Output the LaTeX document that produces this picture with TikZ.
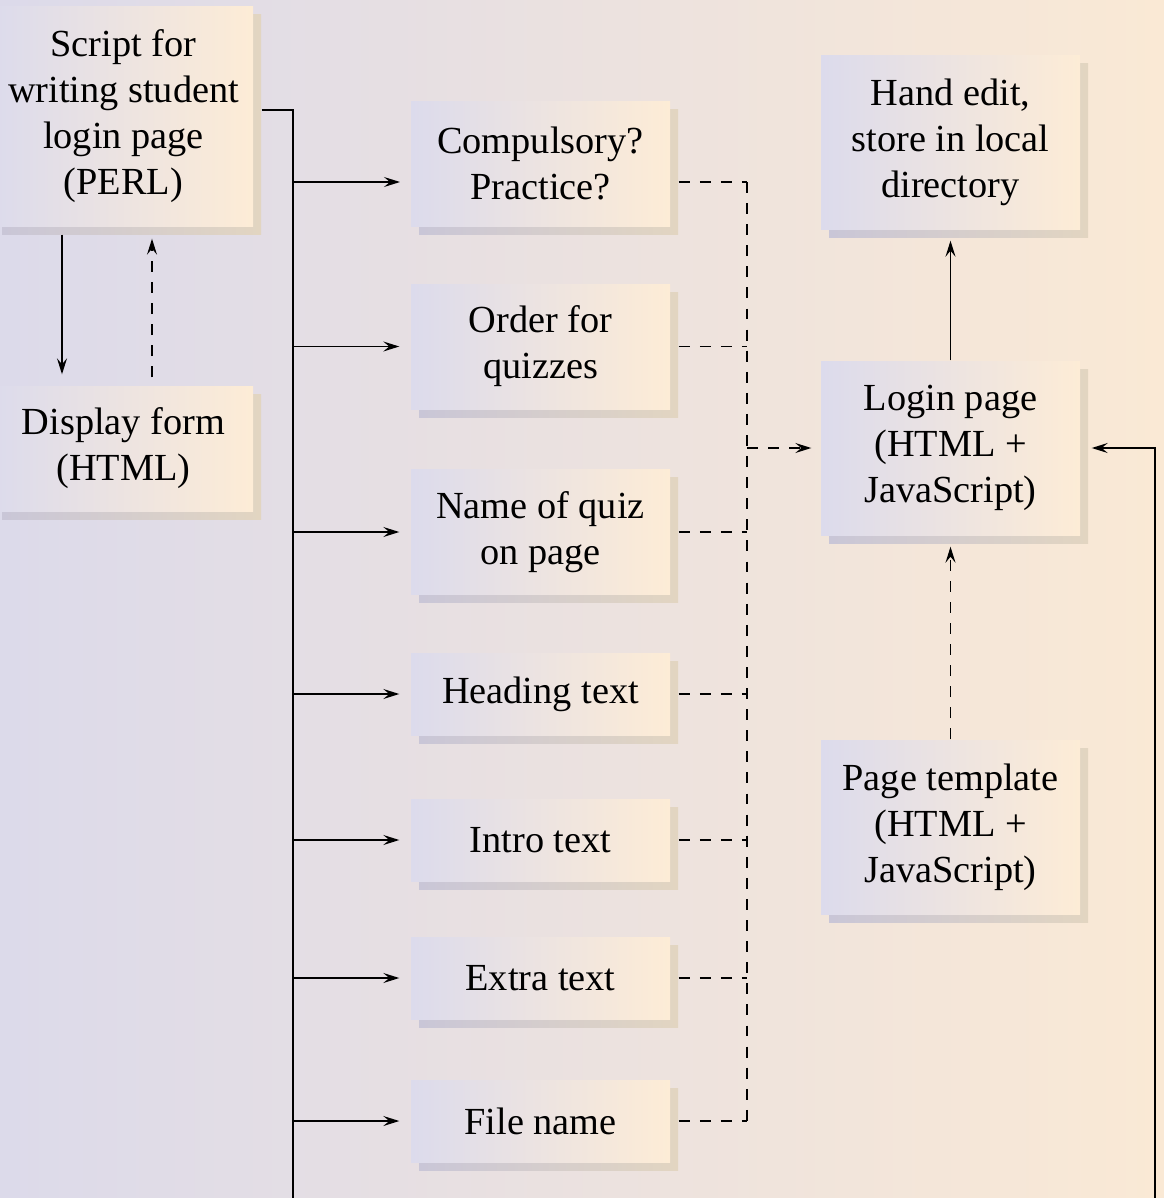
\documentclass[tikz,border=0pt]{standalone}
\usepackage{fontspec}
\setmainfont{Liberation Serif}
\usetikzlibrary{arrows.meta,shadows}

\definecolor{bgL}{RGB}{220,218,234}
\definecolor{bgR}{RGB}{250,233,213}
\definecolor{boxL}{RGB}{220,219,236}
\definecolor{boxR}{RGB}{253,236,214}
\definecolor{shL}{RGB}{201,198,215}
\definecolor{shR}{RGB}{226,213,193}

\tikzset{
	box/.style={rectangle, left color=boxL, right color=boxR, minimum width=2.59cm, inner sep=0pt, align=center,
		font=\fontsize{10.9}{13.1}\selectfont,
		general shadow={shadow xshift=0.8mm, shadow yshift=-0.8mm, left color=shL, right color=shR}},
	plain/.style={line width=0.4pt},
	arr/.style={line width=0.4pt, -{Stealth[length=1.6mm, width=1mm, inset=0.6mm]}},
	dashline/.style={line width=0.4pt, dash pattern=on 3.1pt off 2.9pt}
}

\begin{document}
\begin{tikzpicture}
\useasboundingbox (0,0) rectangle (11.64,-11.98);
\shade[left color=bgL, right color=bgR] (0,0) rectangle (11.64,-11.98);

\path (1.235,-1.16) node[box, minimum height=2.20cm] (script) {Script for\\writing student\\login page\\(PERL)}
		(1.235,-4.485) node[box, minimum height=1.25cm] (display) {Display form\\(HTML)}
		(5.405,-1.635) node[box, minimum height=1.25cm] (comp) {Compulsory?\\Practice?}
		(5.405,-3.465) node[box, minimum height=1.25cm] (order) {Order for\\quizzes}
		(5.405,-5.32) node[box, minimum height=1.25cm] (quizname) {Name of quiz\\on page}
		(5.405,-6.94) node[box, minimum height=0.82cm] (heading) {Heading text}
		(5.405,-8.40) node[box, minimum height=0.82cm] (intro) {Intro text}
		(5.405,-9.78) node[box, minimum height=0.82cm] (extra) {Extra text}
		(5.405,-11.21) node[box, minimum height=0.82cm] (file) {File name}
		(9.505,-1.42) node[box, minimum height=1.74cm] (hand) {Hand edit,\\store in local\\directory}
		(9.505,-4.48) node[box, minimum height=1.74cm] (login) {Login page\\(HTML +\\JavaScript)}
		(9.505,-8.27) node[box, minimum height=1.74cm] (templ) {Page template\\(HTML +\\JavaScript)}
;

\coordinate (busTop) at (2.93,-1.10);
\coordinate (busEnd) at (2.93,-11.98);
\coordinate (compIn) at (4.11,-1.82);
\coordinate (dashTop) at (7.47,-1.82);
\coordinate (loopEnd) at (11.55,-11.98);

\draw[plain, shorten <=0.8mm] (script.east |- busTop) -- (busTop) -- (busEnd);

\draw[arr, shorten >=1.1mm] (busTop |- compIn) -- (compIn);
\draw[arr, shorten >=1.1mm] (busTop |- order.west) -- (node cs:name=order, anchor=west);
\draw[arr, shorten >=1.1mm] (busTop |- quizname.west) -- (node cs:name=quizname, anchor=west);
\draw[arr, shorten >=1.1mm] (busTop |- heading.west) -- (node cs:name=heading, anchor=west);
\draw[arr, shorten >=1.1mm] (busTop |- intro.west) -- (node cs:name=intro, anchor=west);
\draw[arr, shorten >=1.1mm] (busTop |- extra.west) -- (node cs:name=extra, anchor=west);
\draw[arr, shorten >=1.1mm] (busTop |- file.west) -- (node cs:name=file, anchor=west);

\draw[dashline, shorten <=0.8mm] (comp.east |- dashTop) -- (dashTop);
\draw[dashline, shorten <=0.8mm] (node cs:name=order, anchor=east) -- (dashTop |- order.east);
\draw[dashline, shorten <=0.8mm] (node cs:name=quizname, anchor=east) -- (dashTop |- quizname.east);
\draw[dashline, shorten <=0.8mm] (node cs:name=heading, anchor=east) -- (dashTop |- heading.east);
\draw[dashline, shorten <=0.8mm] (node cs:name=intro, anchor=east) -- (dashTop |- intro.east);
\draw[dashline, shorten <=0.8mm] (node cs:name=extra, anchor=east) -- (dashTop |- extra.east);
\draw[dashline, shorten <=0.8mm] (node cs:name=file, anchor=east) -- (dashTop |- file.east);
\draw[dashline] (dashTop) -- (dashTop |- file.east);
\draw[dashline, arr, shorten >=0.9mm] (dashTop |- login.west) -- (node cs:name=login, anchor=west);

\draw[arr, shorten >=1.1mm] (node cs:name=login, anchor=north) -- (node cs:name=hand, anchor=south);
\draw[dashline, arr, shorten >=1.1mm] (node cs:name=templ, anchor=north) -- (node cs:name=login, anchor=south);

\draw[arr, shorten <=0.8mm, shorten >=1.1mm] ([xshift=-6.15mm]script.south) -- ([xshift=-6.15mm]display.north);
\draw[dashline, arr, shorten <=0.8mm, shorten >=1.2mm] ([xshift=2.85mm]display.north) -- ([xshift=2.85mm]script.south);

\draw[arr, shorten >=1.1mm] (loopEnd) -- (loopEnd |- login.east) -- (node cs:name=login, anchor=east);

\end{tikzpicture}
\end{document}
